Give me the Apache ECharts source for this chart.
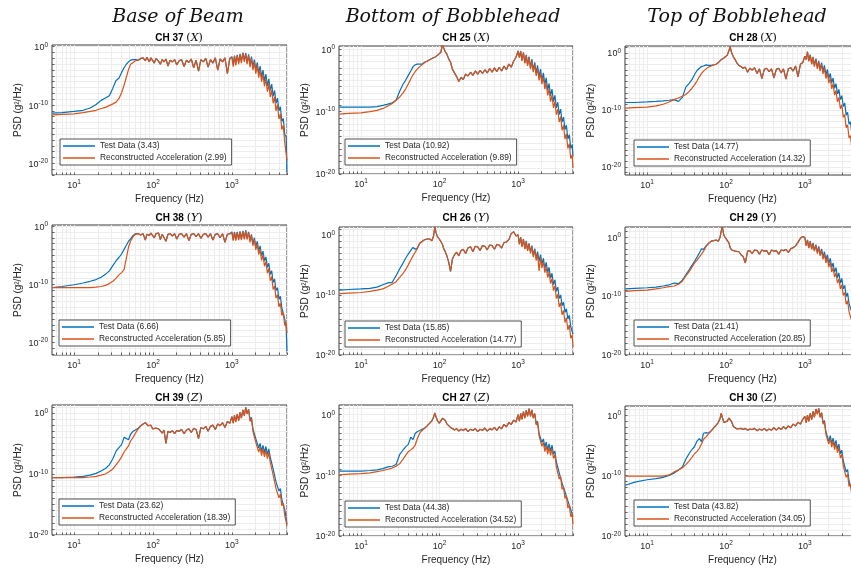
<!DOCTYPE html>
<html>
<head>
<meta charset="utf-8">
<script src="https://cdn.jsdelivr.net/npm/echarts@6/dist/echarts.min.js"></script>
<style>
  html, body { margin: 0; padding: 0; background: #ffffff; }
  #chart { width: 851px; height: 571px; }
</style>
</head>
<body>
<div id="chart"></div>
<script>
// Frequency grid shared by every channel (Hz)
const freqHz = [
  5.3, 7, 10, 13, 16, 19, 22, 25, 28, 31, 34, 37, 40, 43, 46, 49,
  52, 56, 60, 65, 70, 75, 80, 84, 87, 90, 94, 99, 104, 109, 113, 118, 124, 131, 138, 146,
  155, 165, 176, 188, 200, 215, 230, 248, 266, 285, 306, 328, 352, 378, 405, 435, 467, 500,
  536, 575, 617, 662, 710, 762, 818, 878, 942,
  1000, 1040, 1080, 1120, 1170, 1220, 1270, 1320, 1380, 1440, 1500, 1560, 1630, 1700, 1770,
  1850, 1930, 2010, 2100, 2190, 2280, 2380, 2480, 2590, 2700, 2820, 2940, 3070, 3200, 3340,
  3480, 3630, 3790, 3950, 4120, 4300, 4490, 4680, 4880, 5000
];

// PSD levels, log10 of g^2/Hz, one value per frequency above
// Base of Beam
const ch37Test = [
  -11.4, -11.3, -11.1, -10.9, -10.5, -9.9, -9.2, -8.8, -8.4, -7.1, -5.8, -5.4, -4.4, -3.6, -3.0, -2.6,
  -2.3, -2.2, -2.2, -2.3, -2.0, -1.9, -2.4, -1.8, -2.0, -2.6, -1.9, -2.1, -2.8, -2.0, -2.2, -2.5, -3.0, -2.2, -2.6, -2.1, -3.3, -2.3, -2.6, -2.2, -3.1, -2.4, -2.2, -3.4, -2.3, -2.7, -2.1, -3.6, -2.3, -4.2, -2.2, -2.6, -2.0, -3.5, -2.2, -2.8, -1.9, -4.0, -2.1, -2.6, -1.9, -4.6, -2.0,
  -1.7, -3.0, -1.5, -2.9, -1.4, -2.7, -1.2, -2.5, -1.0, -2.3, -1.1, -2.7, -1.3, -3.1, -1.7, -3.5, -2.2, -4.0, -2.7, -4.6, -3.3, -5.2, -4.0, -5.9, -4.7, -6.7, -5.5, -7.5, -6.4, -8.5, -7.5, -9.7, -8.8, -11.0, -10.3, -12.8, -12.3, -15.0, -15.5, -21.5
];
const ch37Recon = [
  -11.7, -11.6, -11.5, -11.3, -11.1, -10.9, -10.6, -10.4, -10.1, -9.8, -9.5, -8.9, -7.9, -6.6, -5.2, -3.9,
  -3.0, -2.7, -2.4, -2.3, -2.0, -1.9, -2.4, -1.8, -2.0, -2.6, -1.9, -2.1, -2.8, -2.0, -2.2, -2.5, -3.0, -2.2, -2.6, -2.1, -3.3, -2.3, -2.6, -2.2, -3.1, -2.4, -2.2, -3.4, -2.3, -2.7, -2.1, -3.6, -2.3, -4.2, -2.2, -2.6, -2.0, -3.5, -2.2, -2.8, -1.9, -4.0, -2.1, -2.6, -1.9, -4.6, -2.0,
  -1.8, -3.4, -1.6, -3.2, -1.5, -3.0, -1.3, -2.8, -1.1, -2.6, -1.2, -3.0, -1.5, -3.5, -2.0, -4.0, -2.6, -4.6, -3.2, -5.3, -3.9, -6.0, -4.7, -6.8, -5.5, -7.7, -6.4, -8.6, -7.4, -9.7, -8.6, -11.0, -9.9, -12.4, -11.5, -14.2, -13.5, -16.4, -16.1, -19.5
];
const ch38Test = [
  -10.6, -10.4, -10.1, -9.8, -9.5, -9.2, -8.8, -8.3, -7.7, -6.8, -6.0, -5.4, -4.8, -4.0, -3.3, -2.6,
  -2.2, -1.6, -1.3, -1.3, -1.5, -1.3, -2.4, -1.4, -1.3, -1.6, -1.2, -1.4, -2.0, -1.3, -1.6, -1.2, -2.3, -1.4, -1.3, -2.6, -1.4, -1.3, -1.7, -1.3, -2.2, -1.4, -1.3, -1.9, -1.3, -2.5, -1.4, -1.3, -1.8, -1.3, -2.1, -1.4, -1.3, -1.9, -1.3, -2.4, -1.4, -1.3, -2.0, -1.3, -2.8, -1.4, -1.3,
  -1.0, -2.3, -1.0, -2.3, -1.0, -2.2, -0.9, -2.2, -0.8, -2.1, -0.7, -2.1, -1.0, -2.5, -1.4, -3.0, -2.0, -3.6, -2.6, -4.3, -3.4, -5.1, -4.3, -6.0, -5.3, -7.1, -6.4, -8.3, -7.7, -9.7, -9.1, -11.1, -10.6, -12.6, -12.1, -14.1, -13.9, -16.0, -17.5, -21.5
];
const ch38Recon = [
  -10.6, -10.6, -10.6, -10.6, -10.6, -10.5, -10.4, -10.2, -9.9, -9.5, -9.0, -8.4, -8.0, -7.5, -5.5, -3.6,
  -2.6, -1.8, -1.4, -1.3, -1.5, -1.3, -2.4, -1.4, -1.3, -1.6, -1.2, -1.4, -2.0, -1.3, -1.6, -1.2, -2.3, -1.4, -1.3, -2.6, -1.4, -1.3, -1.7, -1.3, -2.2, -1.4, -1.3, -1.9, -1.3, -2.5, -1.4, -1.3, -1.8, -1.3, -2.1, -1.4, -1.3, -1.9, -1.3, -2.4, -1.4, -1.3, -2.0, -1.3, -2.8, -1.4, -1.3,
  -1.1, -2.5, -1.1, -2.5, -1.1, -2.4, -1.0, -2.4, -0.9, -2.3, -0.8, -2.3, -1.1, -2.8, -1.6, -3.4, -2.3, -4.1, -3.1, -4.9, -4.0, -5.9, -5.0, -6.9, -6.1, -8.1, -7.3, -9.4, -8.7, -10.9, -10.3, -12.4, -11.8, -13.9, -13.3, -15.4, -14.9, -17.1, -16.7, -18.4
];
const ch39Test = [
  -10.6, -10.6, -10.5, -10.4, -10.2, -9.9, -9.5, -9.1, -8.5, -7.5, -6.3, -5.7, -5.2, -4.0, -4.2, -4.4,
  -3.5, -3.0, -2.8, -2.5, -2.1, -1.8, -1.6, -1.9, -2.1, -2.3, -2.0, -2.6, -2.3, -2.5, -2.8, -2.6, -2.9, -3.3, -2.8, -5.0, -3.0, -3.2, -2.9, -3.4, -2.9, -3.0, -2.7, -3.4, -2.8, -2.6, -3.2, -2.5, -2.7, -4.2, -2.4, -2.6, -2.2, -3.0, -2.2, -2.0, -2.7, -1.8, -2.1, -1.6, -2.4, -1.4, -1.7,
  -0.6, -1.6, -0.4, -1.4, -0.2, -1.2, 0.1, -0.8, 0.5, -0.4, 0.9, -0.1, 0.6, -1.2, -0.7, -2.6, -2.3, -4.2, -4.0, -5.7, -5.0, -6.3, -5.3, -6.5, -5.5, -6.8, -5.9, -7.3, -7.1, -9.2, -9.2, -11.3, -11.1, -12.8, -12.4, -14.2, -13.9, -15.8, -15.8, -18.2
];
const ch39Recon = [
  -10.6, -10.6, -10.6, -10.6, -10.5, -10.4, -10.2, -10.0, -9.6, -9.2, -8.5, -7.9, -7.2, -6.4, -5.9, -5.4,
  -4.6, -4.0, -3.3, -2.6, -2.1, -1.8, -1.6, -1.9, -2.1, -2.3, -2.0, -2.6, -2.3, -2.5, -2.8, -2.6, -2.9, -3.3, -2.8, -5.0, -3.0, -3.2, -2.9, -3.4, -2.9, -3.0, -2.7, -3.4, -2.8, -2.6, -3.2, -2.5, -2.7, -4.2, -2.4, -2.6, -2.2, -3.0, -2.2, -2.0, -2.7, -1.8, -2.1, -1.6, -2.4, -1.4, -1.7,
  -0.6, -1.7, -0.4, -1.5, -0.2, -1.3, 0.1, -0.9, 0.5, -0.5, 0.9, -0.2, 0.6, -1.4, -0.9, -3.0, -2.7, -4.8, -4.6, -6.4, -5.6, -7.0, -5.9, -7.2, -6.1, -7.5, -6.5, -8.1, -7.9, -10.2, -10.1, -12.4, -12.1, -13.9, -13.3, -15.2, -14.8, -16.8, -16.6, -18.5
];
// Bottom of Bobblehead
const ch25Test = [
  -9.3, -9.3, -9.3, -9.3, -9.2, -9.0, -8.8, -8.6, -8.2, -6.8, -5.7, -5.0, -4.2, -3.5, -2.8, -2.5,
  -2.4, -2.4, -2.4, -2.1, -1.9, -1.7, -1.5, -1.5, -1.3, -1.2, -1.0, -0.7, -0.5, 0.7, 0.2, -0.4, -0.8, -1.6, -2.1, -3.2, -3.8, -4.4, -5.2, -4.5, -4.9, -4.0, -4.3, -3.7, -4.2, -3.5, -4.0, -3.4, -3.9, -3.3, -3.8, -3.1, -3.7, -3.0, -3.6, -2.9, -3.5, -2.7, -3.3, -2.4, -2.9, -1.9, -1.3,
  -0.3, -1.3, -0.3, -1.8, -0.5, -2.2, -0.9, -2.5, -1.2, -3.0, -1.6, -3.4, -2.1, -3.9, -2.6, -4.5, -3.2, -5.0, -3.8, -5.7, -4.6, -6.6, -5.5, -7.5, -6.4, -8.4, -7.4, -9.4, -8.5, -10.5, -9.6, -11.7, -10.9, -12.9, -12.2, -14.4, -13.7, -15.9, -15.3, -17.2
];
const ch25Recon = [
  -10.4, -10.3, -10.2, -10.0, -9.8, -9.5, -9.1, -8.7, -8.2, -7.7, -7.1, -6.4, -5.6, -4.8, -4.1, -3.6,
  -3.2, -2.8, -2.5, -2.1, -1.9, -1.7, -1.5, -1.5, -1.3, -1.2, -1.0, -0.7, -0.5, 0.7, 0.2, -0.4, -0.8, -1.6, -2.1, -3.2, -3.8, -4.4, -5.2, -4.5, -4.9, -4.0, -4.3, -3.7, -4.2, -3.5, -4.0, -3.4, -3.9, -3.3, -3.8, -3.1, -3.7, -3.0, -3.6, -2.9, -3.5, -2.7, -3.3, -2.4, -2.9, -1.9, -1.3,
  -0.3, -1.4, -0.3, -1.9, -0.6, -2.3, -1.0, -2.7, -1.4, -3.2, -1.9, -3.7, -2.5, -4.3, -3.1, -5.0, -3.8, -5.6, -4.5, -6.4, -5.4, -7.4, -6.4, -8.4, -7.4, -9.4, -8.4, -10.5, -9.6, -11.7, -10.8, -13.0, -12.2, -14.4, -13.6, -15.9, -15.2, -17.5, -17.0, -19.0
];
const ch26Test = [
  -9.2, -9.1, -9.0, -8.9, -8.7, -8.3, -8.0, -7.9, -6.8, -5.7, -4.8, -3.9, -3.2, -2.6, -2.1, -2.4,
  -2.2, -1.4, -1.1, -0.8, -0.7, -0.7, -1.0, -0.2, 1.3, 0.4, -0.3, -0.7, -1.1, -1.6, -2.3, -2.8, -3.5, -4.6, -6.1, -4.0, -3.3, -2.9, -3.5, -2.6, -2.4, -3.1, -2.2, -2.0, -2.8, -1.9, -2.0, -2.6, -1.8, -1.9, -2.5, -1.7, -1.8, -2.4, -1.6, -1.7, -2.2, -1.3, -1.2, -0.8, 0.2, 0.5, -0.2,
  0.0, -1.5, -0.4, -1.9, -0.7, -2.3, -1.0, -2.6, -1.4, -2.9, -1.8, -3.4, -2.3, -3.9, -2.8, -4.4, -3.3, -4.9, -3.9, -5.6, -4.6, -6.3, -5.4, -7.2, -6.4, -8.3, -7.5, -9.4, -8.7, -10.6, -10.0, -11.8, -11.2, -12.9, -12.3, -14.0, -13.4, -15.3, -15.0, -16.5
];
const ch26Recon = [
  -9.8, -9.7, -9.6, -9.4, -9.2, -9.0, -8.6, -8.2, -7.8, -7.1, -6.5, -5.8, -5.0, -4.2, -3.5, -2.9,
  -2.3, -1.4, -1.1, -0.8, -0.7, -0.7, -1.0, -0.2, 1.3, 0.4, -0.3, -0.7, -1.1, -1.6, -2.3, -2.8, -3.5, -4.6, -6.1, -4.0, -3.3, -2.9, -3.5, -2.6, -2.4, -3.1, -2.2, -2.0, -2.8, -1.9, -2.0, -2.6, -1.8, -1.9, -2.5, -1.7, -1.8, -2.4, -1.6, -1.7, -2.2, -1.3, -1.2, -0.8, 0.2, 0.5, -0.2,
  0.0, -1.6, -0.4, -2.0, -0.8, -2.4, -1.1, -2.7, -1.5, -3.1, -2.0, -3.7, -2.6, -4.3, -3.2, -6.0, -3.8, -5.5, -4.5, -6.3, -5.3, -7.1, -6.2, -8.1, -7.3, -9.3, -8.5, -10.6, -9.9, -12.0, -11.3, -13.3, -12.6, -14.6, -13.8, -15.8, -15.0, -17.2, -16.7, -18.7
];
const ch27Test = [
  -9.3, -9.3, -9.3, -9.2, -9.1, -8.9, -8.6, -8.5, -8.2, -6.6, -5.9, -5.3, -4.9, -3.7, -4.1, -3.1,
  -2.8, -2.6, -2.4, -2.2, -1.8, -1.4, -1.0, -0.4, 0.3, -0.3, -1.0, -1.4, -1.2, -0.6, -0.3, -0.9, -1.5, -1.8, -2.1, -2.2, -2.5, -2.3, -2.7, -2.4, -2.6, -2.3, -2.8, -2.4, -2.6, -2.3, -2.8, -2.4, -2.6, -2.2, -2.7, -2.3, -2.5, -2.1, -2.6, -2.0, -2.3, -1.6, -2.0, -1.3, -1.6, -0.9, -1.2,
  0.0, -1.0, 0.2, -0.7, 0.5, -0.5, 0.7, -0.2, 1.0, -0.2, 0.8, -0.5, 0.2, -1.5, -1.1, -3.1, -2.9, -4.6, -4.0, -5.4, -4.5, -5.8, -4.8, -6.0, -5.0, -6.5, -6.0, -7.8, -7.6, -9.6, -9.3, -11.3, -11.0, -12.7, -12.4, -14.2, -13.9, -15.6, -15.3, -16.8
];
const ch27Recon = [
  -9.9, -9.8, -9.7, -9.6, -9.4, -9.2, -9.0, -8.8, -8.5, -8.1, -7.4, -6.7, -6.1, -5.8, -5.5, -5.0,
  -4.0, -3.0, -2.6, -2.2, -1.8, -1.4, -1.0, -0.4, 0.3, -0.3, -1.0, -1.4, -1.2, -0.6, -0.3, -0.9, -1.5, -1.8, -2.1, -2.2, -2.5, -2.3, -2.7, -2.4, -2.6, -2.3, -2.8, -2.4, -2.6, -2.3, -2.8, -2.4, -2.6, -2.2, -2.7, -2.3, -2.5, -2.1, -2.6, -2.0, -2.3, -1.6, -2.0, -1.3, -1.6, -0.9, -1.2,
  0.0, -1.1, 0.2, -0.8, 0.5, -0.6, 0.7, -0.3, 1.0, -0.3, 0.8, -0.6, 0.2, -1.7, -1.3, -3.5, -3.3, -5.2, -4.6, -6.1, -5.1, -6.5, -5.4, -6.7, -5.6, -7.2, -6.6, -8.6, -8.4, -10.6, -10.2, -12.3, -11.9, -13.8, -13.4, -15.4, -14.9, -16.8, -16.4, -18.1
];
// Top of Bobblehead
const ch28Test = [
  -8.7, -8.7, -8.6, -8.5, -8.4, -8.3, -8.2, -8.5, -7.8, -6.0, -5.4, -4.7, -3.8, -3.1, -2.7, -2.4,
  -2.3, -2.1, -2.2, -2.2, -2.1, -2.0, -1.7, -1.4, -1.2, -1.1, -0.9, -0.7, -0.4, 0.4, 1.1, 0.0, -0.7, -1.2, -1.8, -2.2, -2.4, -2.7, -2.5, -3.4, -2.7, -3.0, -2.6, -3.6, -2.8, -4.5, -2.9, -2.7, -3.3, -2.8, -4.4, -2.9, -2.7, -3.5, -2.8, -4.6, -2.8, -2.6, -3.2, -2.3, -4.2, -2.0, -1.7,
  -0.6, -1.1, 0.2, -1.4, -0.3, -1.9, -0.7, -2.2, -1.0, -2.6, -1.4, -2.9, -1.7, -3.3, -2.2, -3.9, -2.9, -4.5, -3.6, -5.3, -4.4, -6.2, -5.4, -7.2, -6.4, -8.2, -7.5, -9.4, -8.8, -10.9, -10.4, -12.5, -12.1, -14.3, -13.9, -16.1, -15.8, -18.0, -17.8, -19.5
];
const ch28Recon = [
  -9.7, -9.6, -9.5, -9.3, -9.0, -8.6, -8.2, -7.9, -7.6, -7.3, -6.8, -6.2, -5.6, -4.9, -4.2, -3.6,
  -3.2, -2.8, -2.5, -2.3, -2.1, -2.0, -1.7, -1.4, -1.2, -1.1, -0.9, -0.7, -0.4, 0.4, 1.1, 0.0, -0.7, -1.2, -1.8, -2.2, -2.4, -2.7, -2.5, -3.4, -2.7, -3.0, -2.6, -3.6, -2.8, -4.5, -2.9, -2.7, -3.3, -2.8, -4.4, -2.9, -2.7, -3.5, -2.8, -4.6, -2.8, -2.6, -3.2, -2.3, -4.2, -2.0, -1.7,
  -0.6, -1.2, 0.2, -1.5, -0.4, -2.0, -0.8, -2.4, -1.2, -2.8, -1.6, -3.2, -2.0, -3.7, -2.7, -4.5, -3.5, -5.3, -4.4, -6.3, -5.4, -7.4, -6.6, -8.6, -7.8, -9.8, -9.1, -11.3, -10.8, -13.1, -12.6, -14.9, -14.5, -16.9, -16.5, -18.9, -18.5, -20.9, -20.5, -21.8
];
const ch29Test = [
  -8.8, -8.7, -8.6, -8.5, -8.3, -8.1, -7.8, -7.9, -7.3, -6.4, -5.6, -4.8, -4.1, -3.4, -2.7, -2.0,
  -2.1, -1.5, -1.1, -0.7, -0.6, -0.5, -0.7, -0.1, 1.0, 1.7, 0.3, -0.2, -0.6, -1.0, -1.8, -2.2, -2.0, -2.4, -2.7, -2.5, -3.0, -3.3, -4.4, -2.4, -2.3, -2.8, -2.2, -2.3, -2.9, -2.2, -2.4, -2.3, -3.0, -2.2, -2.4, -2.3, -2.9, -2.2, -2.3, -2.1, -2.6, -2.0, -1.8, -1.5, -0.9, -0.2, 0.1,
  -0.1, -1.4, -0.5, -1.8, -0.7, -2.0, -1.0, -2.3, -1.3, -2.6, -1.6, -2.9, -2.0, -3.4, -2.5, -3.9, -3.0, -4.5, -3.6, -5.2, -4.4, -6.0, -5.2, -6.9, -6.1, -7.8, -7.0, -8.8, -8.2, -10.1, -9.5, -11.3, -11.0, -12.8, -12.4, -14.3, -14.0, -15.9, -15.6, -17.0
];
const ch29Recon = [
  -9.2, -9.1, -9.0, -8.8, -8.6, -8.4, -8.3, -8.0, -7.5, -6.6, -5.9, -5.1, -4.4, -3.9, -3.4, -2.9,
  -2.4, -1.6, -1.1, -0.7, -0.6, -0.5, -0.7, -0.1, 1.0, 1.7, 0.3, -0.2, -0.6, -1.0, -1.8, -2.2, -2.0, -2.4, -2.7, -2.5, -3.0, -3.3, -4.4, -2.4, -2.3, -2.8, -2.2, -2.3, -2.9, -2.2, -2.4, -2.3, -3.0, -2.2, -2.4, -2.3, -2.9, -2.2, -2.3, -2.1, -2.6, -2.0, -1.8, -1.5, -0.9, -0.2, 0.1,
  -0.1, -1.5, -0.5, -1.9, -0.8, -2.1, -1.1, -2.4, -1.4, -2.8, -1.8, -3.2, -2.3, -3.8, -2.9, -4.4, -3.5, -5.1, -4.3, -5.9, -5.2, -6.8, -6.1, -7.8, -7.1, -8.8, -8.1, -9.9, -9.4, -11.4, -10.8, -12.7, -12.4, -14.3, -13.9, -15.9, -15.6, -17.7, -17.4, -19.2
];
const ch30Test = [
  -11.6, -11.1, -10.7, -10.5, -10.3, -10.0, -9.6, -9.1, -8.6, -7.3, -6.4, -5.7, -5.2, -4.3, -3.9, -4.4,
  -3.0, -2.9, -3.0, -2.6, -2.1, -1.7, -1.2, -0.6, 0.3, -0.4, -1.2, -1.4, -1.0, -0.5, -0.3, -1.1, -1.9, -2.2, -2.3, -2.5, -2.2, -2.4, -2.2, -2.5, -2.3, -2.4, -2.2, -2.6, -2.3, -2.5, -2.2, -2.6, -2.3, -2.5, -2.1, -2.5, -2.1, -2.4, -1.9, -2.3, -1.8, -2.1, -1.5, -1.8, -1.2, -1.5, -0.7,
  -0.2, -1.2, 0.0, -1.0, 0.3, -0.7, 0.6, -0.3, 1.0, 0.2, 1.1, -0.3, 0.4, -1.3, -0.9, -2.8, -2.7, -4.3, -3.4, -4.7, -3.8, -5.1, -4.2, -5.6, -4.8, -6.4, -5.8, -7.6, -7.3, -9.4, -9.0, -10.9, -10.6, -12.5, -12.2, -14.0, -13.7, -15.5, -15.2, -16.8
];
const ch30Recon = [
  -10.1, -10.1, -10.1, -10.1, -10.1, -9.9, -9.4, -9.1, -8.7, -8.2, -7.6, -7.0, -6.4, -6.0, -5.5, -4.8,
  -4.0, -3.6, -3.1, -2.6, -2.1, -1.7, -1.2, -0.6, 0.3, -0.4, -1.2, -1.4, -1.0, -0.5, -0.3, -1.1, -1.9, -2.2, -2.3, -2.5, -2.2, -2.4, -2.2, -2.5, -2.3, -2.4, -2.2, -2.6, -2.3, -2.5, -2.2, -2.6, -2.3, -2.5, -2.1, -2.5, -2.1, -2.4, -1.9, -2.3, -1.8, -2.1, -1.5, -1.8, -1.2, -1.5, -0.7,
  -0.2, -1.3, 0.0, -1.1, 0.3, -0.8, 0.6, -0.4, 1.0, 0.1, 1.1, -0.4, 0.4, -1.5, -1.1, -3.2, -3.1, -4.8, -3.9, -5.3, -4.3, -5.7, -4.7, -6.2, -5.4, -7.1, -6.5, -8.4, -8.1, -10.3, -9.8, -11.8, -11.4, -13.4, -13.0, -15.0, -14.6, -16.6, -16.2, -17.9
];

// Panels in reading order (row by row)
const testSeries  = [ch37Test, ch25Test, ch28Test, ch38Test, ch26Test, ch29Test, ch39Test, ch27Test, ch30Test];
const reconSeries = [ch37Recon, ch25Recon, ch28Recon, ch38Recon, ch26Recon, ch29Recon, ch39Recon, ch27Recon, ch30Recon];
const channelNames = ['CH 37', 'CH 25', 'CH 28', 'CH 38', 'CH 26', 'CH 29', 'CH 39', 'CH 27', 'CH 30'];
const directions = ['X', 'X', 'X', 'Y', 'Y', 'Y', 'Z', 'Z', 'Z'];
const testLegendNum  = ['3.43', '10.92', '14.77', '6.66', '15.85', '21.41', '23.62', '44.38', '43.82'];
const reconLegendNum = ['2.99', '9.89', '14.32', '5.85', '14.77', '20.85', '18.39', '34.52', '34.05'];
const columnTitles = ['Base of Beam', 'Bottom of Bobblehead', 'Top of Bobblehead'];
const xLabelValues = [10, 100, 1000];
const yLabelValues = [1e-20, 1e-10, 1];

// Layout (pixels) and axis spans
const gridBoxes = [
  [52, 45, 235, 130], [339, 46, 234, 128], [625, 46, 235, 129],
  [52, 225, 235, 130], [339, 227, 234, 128], [625, 227, 235, 128],
  [52, 405, 235, 130], [339, 405, 234, 131], [625, 406, 235, 130]
];
const yExpRange = [[-22, 0.3], [-20, 0.5], [-21.4, 1.2], [-22.2, 0.2], [-20, 1.3], [-20, 1.7], [-20, 1.3], [-20, 1.6], [-20, 1.5]];
const legendPos = [[60, 139], [345, 139], [634, 140], [59, 320], [345, 321], [634, 320], [59, 499], [345, 501], [634, 500]];
const titleX = [179, 466, 753];
const titleY = [38, 218, 398];
const headX = [178, 453, 737];
const X_MIN = 5.25, X_MAX = 5000;

const SANS = '"Liberation Sans", Arial, sans-serif';
const SERIF = '"DejaVu Serif", serif';
const BLUE = '#0072BD';
const ORANGE = '#D95319';
const TEXT = '#262626';

// Minor/major tick positions for the log axes
const xTickValues = [];
[1, 10, 100, 1000].forEach(function (d) {
  for (let k = 1; k <= 9; k++) {
    const v = k * d;
    if (v >= X_MIN && v <= X_MAX) xTickValues.push(v);
  }
});
function decadeTicks(range) {
  const out = [];
  for (let e = Math.ceil(range[0]); e <= Math.floor(range[1]); e++) out.push(Math.pow(10, e));
  return out;
}
function powerLabel(v) {
  return '{b|10}{s|' + Math.round(Math.log10(v)) + '}';
}
const powerRich = {
  b: { fontSize: 9, fontFamily: SANS, color: TEXT, lineHeight: 11, verticalAlign: 'bottom' },
  s: { fontSize: 6.5, fontFamily: SANS, color: TEXT, lineHeight: 7, verticalAlign: 'top' }
};

const grids = [], xAxes = [], yAxes = [], series = [], legends = [], graphics = [];

gridBoxes.forEach(function (b, i) {
  grids.push({
    left: b[0], top: b[1], width: b[2], height: b[3],
    show: true, borderColor: '#3a3a3a', borderWidth: 1, backgroundColor: '#ffffff',
    containLabel: false, outerBoundsMode: 'none'
  });
  xAxes.push({
    type: 'log', logBase: 10, gridIndex: i, min: X_MIN, max: X_MAX,
    axisLine: { show: false },
    axisTick: { show: true, inside: true, length: 2.5, customValues: xTickValues, lineStyle: { color: '#3a3a3a', width: 0.8 } },
    axisLabel: { customValues: xLabelValues, formatter: powerLabel, rich: powerRich, margin: 4 },
    splitLine: { show: true, lineStyle: { color: '#ededed', width: 1 } },
    name: 'Frequency (Hz)', nameLocation: 'middle', nameGap: 19,
    nameTextStyle: { fontFamily: SANS, fontSize: 10, color: TEXT }
  });
  const yr = yExpRange[i];
  yAxes.push({
    type: 'log', logBase: 10, gridIndex: i, min: Math.pow(10, yr[0]), max: Math.pow(10, yr[1]),
    axisLine: { show: false },
    axisTick: { show: true, inside: true, length: 2.5, customValues: decadeTicks(yr), lineStyle: { color: '#3a3a3a', width: 0.8 } },
    axisLabel: { customValues: yLabelValues, formatter: powerLabel, rich: powerRich, margin: 4 },
    splitLine: { show: true, lineStyle: { color: '#ededed', width: 1 } },
    name: 'PSD (g²/Hz)', nameLocation: 'middle', nameGap: 29, nameRotate: 90,
    nameTextStyle: { fontFamily: SANS, fontSize: 10, color: TEXT }
  });

  const testName = 'Test Data (' + testLegendNum[i] + ')';
  const reconName = 'Reconstructed Acceleration (' + reconLegendNum[i] + ')';
  const toPoints = function (arr) {
    return freqHz.map(function (f, k) { return [f, Math.pow(10, arr[k])]; });
  };
  series.push({
    type: 'line', name: testName, xAxisIndex: i, yAxisIndex: i,
    data: toPoints(testSeries[i]), showSymbol: false, symbol: 'none',
    color: BLUE, lineStyle: { color: BLUE, width: 1.2 }, z: 2, silent: true
  });
  series.push({
    type: 'line', name: reconName, xAxisIndex: i, yAxisIndex: i,
    data: toPoints(reconSeries[i]), showSymbol: false, symbol: 'none',
    color: ORANGE, lineStyle: { color: ORANGE, width: 1.2 }, z: 3, silent: true
  });
  legends.push({
    data: [testName, reconName], left: legendPos[i][0], top: legendPos[i][1],
    orient: 'vertical', icon: 'rect', itemWidth: 32, itemHeight: 1.5, itemGap: 4,
    padding: [3, 5, 3, 3], backgroundColor: '#ffffff', borderColor: TEXT, borderWidth: 0.8,
    textStyle: { fontFamily: SANS, fontSize: 8.4, color: TEXT }, selectedMode: false, z: 10
  });
  graphics.push({
    type: 'text', x: titleX[i % 3], y: titleY[Math.floor(i / 3)],
    style: {
      text: '{a|' + channelNames[i] + ' }{p|(}{i|' + directions[i] + '}{p|)}',
      align: 'center', verticalAlign: 'middle', textAlign: 'center', textVerticalAlign: 'middle',
      rich: {
        a: { fontFamily: SANS, fontSize: 10, fontWeight: 'bold', fill: '#000', color: '#000' },
        p: { fontFamily: SERIF, fontSize: 11, fill: '#000', color: '#000' },
        i: { fontFamily: SERIF, fontSize: 11, fontStyle: 'italic', fill: '#000', color: '#000' }
      }
    }
  });
});

columnTitles.forEach(function (t, c) {
  graphics.push({
    type: 'text', x: headX[c], y: 17,
    style: {
      text: t, fill: '#111', font: 'italic 19px ' + SERIF,
      align: 'center', verticalAlign: 'middle', textAlign: 'center', textVerticalAlign: 'middle'
    }
  });
});

const chart = echarts.init(document.getElementById('chart'), null, { renderer: 'canvas' });
chart.setOption({
  animation: false,
  backgroundColor: '#ffffff',
  grid: grids,
  xAxis: xAxes,
  yAxis: yAxes,
  legend: legends,
  series: series,
  graphic: graphics
});
</script>
</body>
</html>
